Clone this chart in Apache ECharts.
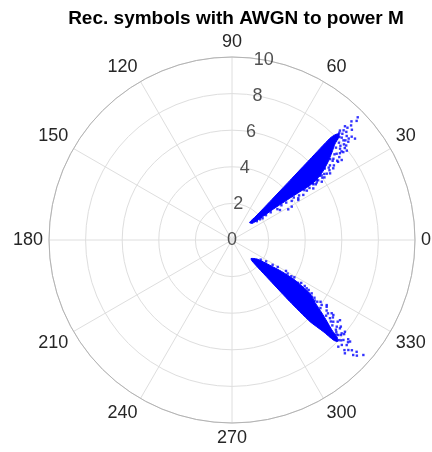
<!DOCTYPE html>
<html>
<head>
<meta charset="utf-8">
<script src="https://cdn.jsdelivr.net/npm/echarts@6/dist/echarts.min.js"></script>
<style>
  html, body { margin: 0; padding: 0; background: #ffffff; }
  #chart { width: 432px; height: 452px; }
</style>
</head>
<body>
<div id="chart"></div>
<script>
// Axis ticks
const angleTicks = [0, 30, 60, 90, 120, 150, 180, 210, 240, 270, 300, 330];
const radiusTicks = [0, 2, 4, 6, 8, 10];
const radiusLabelAngle = 80;

// Dense core of the cluster near 45 deg: outline as [radius, angle]
const upperCore = [
  [1.35, 45.0], [1.85, 44.9], [2.96, 45.4], [4.54, 45.8], [6.13, 46.0],
  [7.72, 46.1], [8.05, 45.6], [8.25, 44.8], [8.10, 43.9], [7.69, 43.0],
  [7.28, 41.3], [6.76, 39.1], [6.21, 37.0], [5.73, 35.6], [5.18, 35.0],
  [4.55, 35.4], [3.72, 36.0], [2.81, 36.8], [1.93, 37.5], [1.42, 39.5]
];
// Sparse symbols around that core
const upperSpread = [
  [9.42, 43.7], [9.03, 43.9], [8.76, 45.2], [8.29, 45.0], [8.37, 43.9],
  [8.46, 42.2], [8.17, 41.8], [8.71, 39.5], [8.13, 43.8], [8.05, 40.5],
  [7.73, 40.2], [7.41, 39.5], [7.41, 37.7], [7.75, 38.3], [7.10, 38.7],
  [6.73, 37.3], [6.32, 35.0], [6.04, 35.8], [5.73, 34.7], [5.39, 34.4],
  [8.64, 40.8], [8.32, 40.2], [7.57, 38.8], [7.42, 36.1], [6.78, 35.3],
  [6.48, 34.2], [5.85, 33.0], [5.26, 32.4], [5.67, 35.3], [4.61, 32.3],
  [4.28, 32.2], [3.50, 28.6], [3.74, 29.2], [4.23, 31.1], [3.09, 32.0],
  [1.90, 36.5], [8.55, 44.5], [8.90, 42.6], [8.45, 41.0], [7.95, 39.2],
  [7.20, 37.0], [6.90, 36.2], [6.10, 34.1], [5.50, 33.6], [4.90, 33.4],
  [7.90, 42.3], [7.60, 41.6], [7.85, 41.0], [8.20, 43.0], [8.00, 44.9],
  [8.40, 45.4], [8.60, 43.4], [8.80, 44.2], [7.30, 39.9], [7.00, 38.2],
  [6.95, 39.5], [6.60, 36.8], [6.40, 37.6], [6.20, 35.6], [6.00, 34.6],
  [5.95, 36.2], [5.60, 34.2], [5.40, 35.0], [5.10, 33.9], [4.80, 34.6],
  [4.40, 33.6], [4.10, 34.5], [3.90, 33.2], [3.60, 34.6], [3.30, 35.1],
  [3.00, 34.2], [2.60, 35.6], [2.30, 36.2], [2.05, 35.4], [1.70, 37.2],
  [7.70, 39.0], [8.25, 41.3], [8.10, 39.6], [7.95, 37.9], [7.20, 36.4],
  [6.55, 35.6], [9.20, 44.8], [9.60, 44.3]
];

// Dense core of the cluster near 315 deg
const lowerCore = [
  [1.45, 315.8], [1.72, 322.8], [2.49, 326.3], [3.21, 327.6], [4.00, 327.6],
  [4.65, 326.5], [5.15, 325.6], [5.69, 323.0], [6.33, 320.9], [6.83, 319.4],
  [7.34, 318.0], [7.85, 317.2], [8.00, 316.1], [7.80, 315.4], [7.07, 314.9],
  [6.17, 313.7], [4.63, 313.2], [3.03, 313.2], [1.58, 313.6]
];
const lowerSpread = [
  [6.28, 325.5], [6.76, 323.7], [6.85, 321.4], [7.11, 321.1], [7.43, 320.4],
  [7.62, 320.7], [7.87, 319.6], [7.95, 320.9], [7.79, 318.2], [8.18, 318.1],
  [8.50, 317.5], [8.51, 319.3], [8.75, 316.6], [9.15, 318.1], [9.13, 316.5],
  [9.54, 318.8], [8.74, 314.9], [3.97, 329.1], [4.86, 327.1], [5.24, 326.2],
  [5.75, 324.1], [6.05, 324.1], [6.33, 324.8], [6.89, 323.5], [8.23, 314.9],
  [7.30, 322.3], [7.60, 318.6], [8.00, 316.8], [8.35, 319.5], [6.60, 322.6],
  [5.50, 325.0], [4.45, 328.2], [3.40, 330.2],
  [7.50, 319.2], [7.70, 317.9], [7.90, 318.9], [8.10, 317.4], [8.30, 316.3],
  [8.00, 320.0], [7.20, 319.6], [7.00, 320.5], [6.95, 322.5], [6.60, 321.2],
  [6.45, 323.3], [6.10, 322.4], [5.90, 325.1], [5.60, 323.8], [5.35, 324.6],
  [5.00, 326.9], [4.70, 327.7], [4.30, 327.0], [3.80, 328.6], [3.55, 328.9],
  [2.90, 329.5], [2.60, 328.6], [2.20, 327.9], [1.90, 325.6], [8.60, 315.6],
  [8.90, 317.4], [9.30, 317.2], [8.45, 318.6], [7.60, 321.5], [7.35, 323.4]
];

const FONT = 'Liberation Sans, Arial, Helvetica, sans-serif';
const BLUE = '#0000ff';

// Filled outline drawn through the polar scales
function coreSeries(points) {
  return {
    type: 'custom',
    coordinateSystem: 'polar',
    data: points,
    silent: true,
    z: 3,
    renderItem: function (params, api) {
      if (params.dataIndex !== 0) return null;
      const pts = points.map(function (p) { return api.coord(p); });
      return {
        type: 'polygon',
        shape: { points: pts, smooth: 0.2 },
        style: { fill: BLUE, stroke: BLUE, lineWidth: 1 }
      };
    }
  };
}

function spreadSeries(points) {
  return {
    type: 'scatter',
    coordinateSystem: 'polar',
    data: points,
    symbol: 'rect',
    symbolSize: 2.4,
    silent: true,
    z: 4,
    itemStyle: { color: BLUE }
  };
}

const chart = echarts.init(document.getElementById('chart'), null, { renderer: 'canvas' });

chart.setOption({
  animation: false,
  backgroundColor: '#ffffff',
  title: {
    text: 'Rec. symbols with AWGN to power M',
    left: 231,
    top: 4,
    textAlign: 'center',
    textStyle: { fontSize: 19, fontWeight: 'bold', color: '#000000', fontFamily: FONT }
  },
  polar: { center: [232, 240], radius: 183 },
  angleAxis: {
    type: 'value',
    min: 0,
    max: 360,
    interval: 30,
    startAngle: 0,
    clockwise: false,
    axisLine: { show: true, lineStyle: { color: '#b3b3b3', width: 1 } },
    axisTick: { show: false },
    axisLabel: {
      margin: 6,
      fontSize: 18,
      color: '#262626',
      fontFamily: FONT,
      formatter: function (v) { return angleTicks.indexOf(v) >= 0 ? String(v) : ''; }
    },
    splitLine: { show: true, lineStyle: { color: '#dedede', width: 1 } }
  },
  radiusAxis: {
    type: 'value',
    min: 0,
    max: 10,
    interval: 2,
    axisLine: { show: false },
    axisTick: { show: false },
    axisLabel: { show: false },
    splitLine: { show: true, lineStyle: { color: '#dedede', width: 1 } }
  },
  series: [
    coreSeries(upperCore),
    spreadSeries(upperSpread),
    coreSeries(lowerCore),
    spreadSeries(lowerSpread),
    {
      type: 'scatter',
      coordinateSystem: 'polar',
      data: radiusTicks.map(function (r) { return [r, radiusLabelAngle]; }),
      symbolSize: 0,
      silent: true,
      z: 5,
      label: {
        show: true,
        position: 'inside',
        fontSize: 18,
        color: '#262626',
        fontFamily: FONT,
        formatter: function (p) { return String(p.value[0]); }
      }
    }
  ]
});
</script>
</body>
</html>
